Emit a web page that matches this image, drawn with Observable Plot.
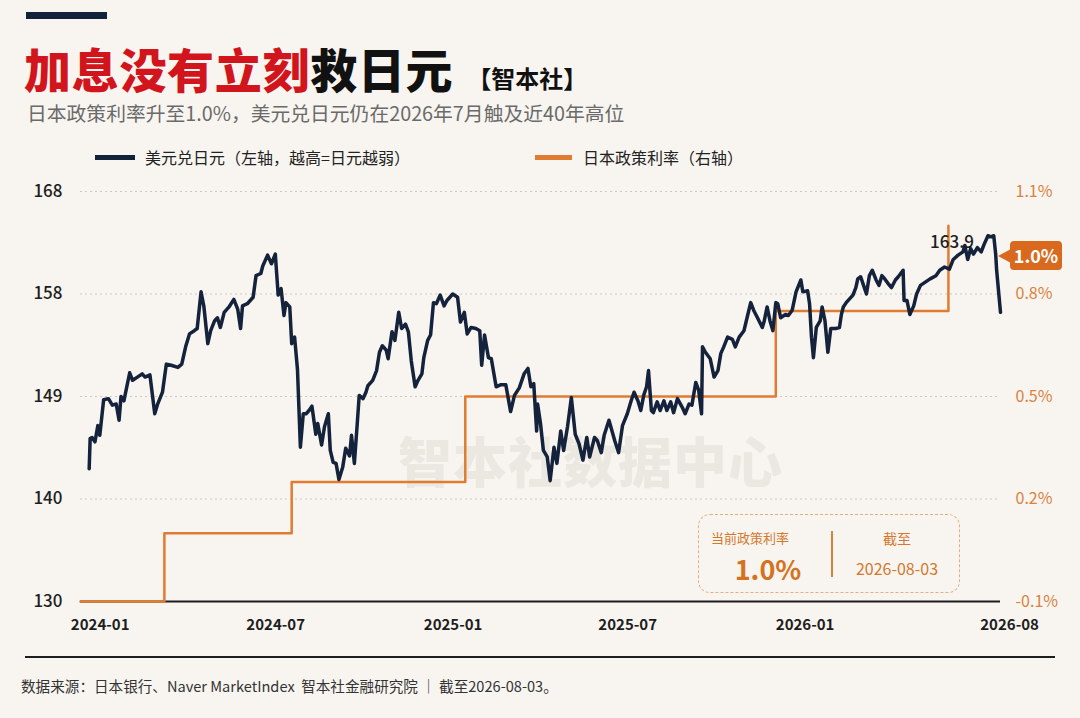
<!DOCTYPE html>
<html>
<head>
<meta charset="utf-8">
<script src="https://cdn.jsdelivr.net/npm/d3@7"></script>
<script src="https://cdn.jsdelivr.net/npm/@observablehq/plot@0.6"></script>
<style>
  html, body { margin:0; padding:0; background:#f8f5f0; }
  body { width:1080px; height:718px; overflow:hidden; position:relative; font-family:"Noto Sans CJK SC","Noto Sans",sans-serif; }
  .abs { position:absolute; white-space:nowrap; }
  #bar { left:26px; top:12px; width:81px; height:7px; background:#13223b; }
  #title { left:24px; top:42px; font-size:47px; line-height:52px; font-weight:900; color:#111; letter-spacing:0.7px; }
  #title .red { color:#d2141c; }
  #title .tag { font-size:24px; font-weight:700; color:#111; margin-left:14px; letter-spacing:0; }
  #subtitle { left:27px; top:99px; font-size:19.8px; line-height:28px; color:#6a6a6a; }
  .sw { height:5px; }
  .lg { font-size:16px; line-height:22px; color:#222; }
  #chart { left:0; top:170px; }
  #wm { left:398px; top:428px; font-size:54px; line-height:64px; font-weight:900; color:#ebe7e1; letter-spacing:1px; }
  #badge { left:1010px; top:241px; width:52px; height:29px; background:#d9691e; border-radius:4px; color:#fff; font-weight:700; font-size:18px; line-height:29px; text-align:center; }
  #tri { left:998px; top:249px; width:0; height:0; border-top:7px solid transparent; border-bottom:7px solid transparent; border-right:13px solid #d9691e; }
  #box { left:698px; top:514px; width:260px; height:77px; border:1.5px dashed #e6ad80; border-radius:12px; }
  .bt { color:#d4782e; text-align:center; }
  #footline { left:25px; top:656px; width:1030px; height:2px; background:#1e1e1e; }
  #foot { left:21px; top:675px; font-size:14.6px; line-height:22px; color:#333; }
</style>
</head>
<body>
<div id="wm" class="abs">智本社数据中心</div>
<div id="bar" class="abs"></div>
<div id="title" class="abs"><span class="red">加息没有立刻</span>救日元<span class="tag">【智本社】</span></div>
<div id="subtitle" class="abs">日本政策利率升至1.0%，美元兑日元仍在2026年7月触及近40年高位</div>
<div class="abs sw" style="left:95px;top:155px;width:40px;background:#13223b;"></div>
<div class="abs lg" style="left:145px;top:146px;">美元兑日元（左轴，越高=日元越弱）</div>
<div class="abs sw" style="left:535px;top:155px;width:37px;background:#e07b32;"></div>
<div class="abs lg" style="left:583px;top:146px;">日本政策利率（右轴）</div>
<div id="chart" class="abs"></div>
<div id="tri" class="abs"></div>
<div id="badge" class="abs"></div>
<div id="box" class="abs"></div>
<div class="abs bt" style="left:700px;top:528px;width:100px;font-size:13px;line-height:20px;">当前政策利率</div>
<div id="curRate" class="abs bt" style="left:700px;top:551px;width:136px;font-size:27px;line-height:36px;font-weight:700;color:#d4731f;"></div>
<div class="abs" style="left:831px;top:531px;width:1.5px;height:46px;background:#d9823f;"></div>
<div class="abs bt" style="left:847px;top:528px;width:100px;font-size:14px;line-height:20px;">截至</div>
<div id="asof" class="abs bt" style="left:837px;top:556px;width:120px;font-size:16px;line-height:24px;"></div>
<div id="footline" class="abs"></div>
<div id="foot" class="abs">数据来源：日本银行、Naver MarketIndex&nbsp;&nbsp;智本社金融研究院 ｜ 截至2026-08-03。</div>
<script>
// ---- data: days since 2024-01-01 and USD/JPY close ----
const fxDays = [
  0,1,3,6,9,11,15,20,24,28,31,33,36,42,45,50,55,58,63,68,71,76,80,85,92,96,100,104,
  109,112,116,119,123,126,130,133,136,140,145,150,154,157,159,164,170,173,178,180,185,189,193,196,199,202,204,208,210,213,216,219,222,225,
  228,231,235,237,241,244,248,250,253,256,259,263,266,270,272,275,278,280,284,287,289,294,298,301,304,308,310,314,317,321,324,328,331,334,338,341,345,
  347,351,354,357,360,364,368,371,377,382,385,389,392,396,401,405,407,410,414,417,422,427,432,437,441,446,451,455,458,461,464,
  465,468,471,475,478,482,485,489,492,496,500,504,508,512,516,519,524,527,531,534,539,545,549,553,558,562,565,569,572,575,578,580,583,
  585,589,592,596,599,603,606,610,615,618,622,625,629,632,635,636,639,644,648,652,655,658,662,667,670,674,679,683,686,689,693,698,700,
  703,706,709,712,714,717,722,725,729,733,738,740,745,747,749,751,754,758,760,763,766,769,774,778,780,782,785,788,792,795,797,800,803,806,809,812,816,819,
  822,825,829,832,836,839,844,845,848,851,855,858,862,867,872,878,882,887,892,896,901,906,908,911,914,917,921,925,928,932,935,938,940,
  941,945
];
const usdjpy = [
  142.3,145.1,145.2,144.8,146.3,145.4,148.7,148.8,148.2,148.3,146.8,149.0,148.6,151.2,150.5,150.8,151.1,150.8,151.0,147.4,148.3,149.4,152.0,151.9,151.7,152.0,153.6,154.8,
  155.1,155.3,158.7,157.3,153.9,155.1,156.0,156.3,155.4,156.8,157.3,158.0,157.1,155.3,157.4,157.6,158.2,160.2,160.4,161.1,162.1,161.3,162.2,158.4,159.0,156.5,157.7,157.3,153.9,154.5,151.5,144.3,147.4,147.4,
  147.7,148.1,145.5,146.5,144.5,146.2,147.4,144.0,142.9,142.8,141.3,142.5,144.2,143.5,145.4,142.8,146.5,149.1,148.8,149.4,150.0,150.5,151.4,153.1,153.7,153.3,152.5,155.0,154.2,156.8,155.3,155.7,155.0,152.3,149.9,150.5,151.1,
  152.6,154.2,154.7,157.7,157.6,158.4,157.4,157.9,158.5,158.2,155.9,156.8,154.8,155.4,155.3,155.1,151.9,154.7,152.6,152.5,149.9,150.1,150.1,147.6,149.1,149.8,151.1,151.6,149.9,150.2,145.8,
  148.3,146.5,144.0,143.4,141.2,144.3,142.8,145.8,144.0,146.2,148.9,145.5,144.6,143.1,145.2,143.4,145.2,144.9,143.8,145.4,146.8,144.9,143.8,146.3,147.4,148.6,149.4,148.6,147.7,149.1,149.9,151.4,147.7,
  147.5,148.5,147.7,148.6,147.7,148.5,147.5,148.8,148.0,147.4,148.3,148.2,150.3,149.6,147.4,153.6,153.1,152.5,150.8,151.4,153.0,153.6,154.5,154.3,153.6,154.5,155.1,156.6,157.7,157.0,156.3,155.4,156.0,
  157.3,156.0,155.1,157.7,157.6,156.3,156.6,156.5,157.0,158.7,159.8,158.7,158.8,157.6,154.5,152.6,155.4,156.0,157.3,156.0,153.1,155.3,155.3,155.4,156.6,157.3,157.7,158.0,158.4,159.1,159.9,160.1,159.3,158.5,160.2,160.7,159.8,159.3,
  160.2,159.9,159.4,159.1,159.8,160.1,160.7,157.9,157.9,156.6,157.4,158.5,159.3,159.6,159.9,160.2,160.7,161.0,160.8,161.7,162.1,162.4,163.0,161.7,162.7,162.2,162.8,162.4,163.1,163.9,163.8,163.9,162.2,
  160.7,156.8
];
// BOJ policy rate steps (days since 2024-01-01, %)
const rateDays = [-9, 78, 210, 390, 712, 891];
const rates = [-0.1, 0.1, 0.25, 0.5, 0.75, 1.0];
// axis ticks
const leftTickValues = [130, 139.5, 149, 158.5, 168];
const leftTickLabels = ["130", "140", "149", "158", "168"];
const rightTickRates = [-0.1, 0.2, 0.5, 0.8, 1.1];
const rightTickLabels = ["-0.1%", "0.2%", "0.5%", "0.8%", "1.1%"];
const xTickDates = ["2024-01-01", "2024-07-01", "2025-01-01", "2025-07-01", "2026-01-01", "2026-08-01"];
const asOfDate = "2026-08-03";

// ---- build ----
const base = Date.UTC(2024, 0, 1);
const toDate = d => new Date(base + d * 864e5);
const yMin = 130, yMax = 168, rMin = -0.1, rMax = 1.1;
const rateToY = r => yMin + (r - rMin) / (rMax - rMin) * (yMax - yMin);

const fxData = fxDays.map((d, i) => ({date: toDate(d), v: usdjpy[i]}));
const rateData = rateDays.map((d, i) => ({date: toDate(d), y: rateToY(rates[i]), r: rates[i]}));
let peak = fxData[0];
for (const p of fxData) if (p.v > peak.v) peak = p;

const navy = "#14223b", orange = "#e07b32";
const font = '"Noto Sans CJK SC","Noto Sans",sans-serif';

const chart = Plot.plot({
  width: 1080, height: 480,
  marginLeft: 80, marginRight: 80, marginTop: 21, marginBottom: 49,
  style: {background: "transparent", fontFamily: font, overflow: "visible"},
  x: {type: "utc", domain: [toDate(-9), d3.utcParse("%Y-%m-%d")(asOfDate)], axis: null},
  y: {domain: [yMin, yMax], axis: null},
  marks: [
    Plot.ruleY(leftTickValues.slice(1), {stroke: "#cdc8c1", strokeWidth: 1, strokeDasharray: "2,3"}),
    Plot.ruleY([yMin], {stroke: "#1c1c1c", strokeWidth: 2}),
    Plot.axisY({
      anchor: "left", ticks: leftTickValues, tickSize: 0, tickPadding: 18, label: null,
      tickFormat: d => leftTickLabels[leftTickValues.indexOf(d)],
      fontSize: 17, fontWeight: 500, color: "#1e1e1e"
    }),
    Plot.axisY({
      anchor: "right", ticks: rightTickRates.map(rateToY), tickSize: 0, tickPadding: 15, label: null,
      tickFormat: d => rightTickLabels[rightTickRates.map(rateToY).findIndex(v => Math.abs(v - d) < 1e-9)],
      fontSize: 16, color: "#d9823f"
    }),
    Plot.axisX({
      ticks: xTickDates.map(s => d3.utcParse("%Y-%m-%d")(s)), tickSize: 0, tickPadding: 18, label: null,
      tickFormat: d3.utcFormat("%Y-%m"), fontSize: 15, fontWeight: 600, color: "#1e1e1e", dx: 11
    }),
    Plot.line(rateData, {x: "date", y: "y", curve: "step-after", stroke: orange, strokeWidth: 2.5}),
    Plot.line(fxData, {x: "date", y: "v", stroke: navy, strokeWidth: 3.5, strokeLinejoin: "round", strokeLinecap: "round"}),
    Plot.text([peak], {x: "date", y: "v", text: d => d.v.toFixed(1), dx: -36, dy: 7, fontSize: 17, fontWeight: 500, fill: "#1e1e1e"})
  ]
});
document.getElementById("chart").appendChild(chart);

const lastRate = rates[rates.length - 1];
document.getElementById("badge").textContent = lastRate.toFixed(1) + "%";
document.getElementById("curRate").textContent = lastRate.toFixed(1) + "%";
document.getElementById("asof").textContent = asOfDate;
</script>
</body>
</html>
